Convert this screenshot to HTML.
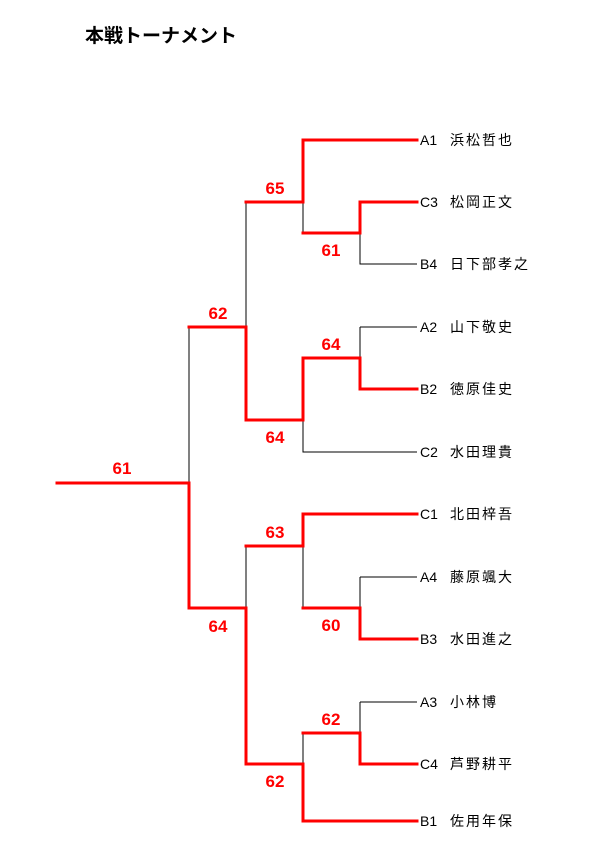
<!DOCTYPE html>
<html><head><meta charset="utf-8"><style>
html,body{margin:0;padding:0;background:#fff;}
svg{display:block;}
.t{font-family:"Liberation Sans","Noto Sans CJK JP",sans-serif;}
</style></head><body>
<svg width="600" height="860" xmlns="http://www.w3.org/2000/svg">
<text x="85" y="42" class="t" font-size="19" font-weight="bold" fill="#000">本戦トーナメント</text>
<g stroke="#000" stroke-width="1" fill="none" shape-rendering="crispEdges">
<path d="M360 233V264H417"/>
<path d="M303 202V233"/>
<path d="M360 327V358M360 327H417"/>
<path d="M303 420V452H417"/>
<path d="M246 202V327"/>
<path d="M360 577V608M360 577H417"/>
<path d="M303 546V608"/>
<path d="M360 702V733M360 702H417"/>
<path d="M303 733V764"/>
<path d="M246 546V608"/>
<path d="M189 327V483"/>
</g>
<g stroke="#ff0000" stroke-width="3" fill="none" stroke-linecap="square">
<path d="M417 202H360V233H303"/>
<path d="M417 140H303V202H246"/>
<path d="M417 389H360V358H303"/>
<path d="M303 358V420H246"/>
<path d="M246 420V327H189"/>
<path d="M417 639H360V608H303"/>
<path d="M417 514H303V546H246"/>
<path d="M417 764H360V733H303"/>
<path d="M417 821H303V764H246"/>
<path d="M246 764V608H189"/>
<path d="M189 608V483H57"/>
</g>
<g class="t" font-size="17" font-weight="bold" fill="#ff0000" text-anchor="middle">
<text x="122" y="474">61</text>
<text x="218" y="319">62</text>
<text x="218" y="632">64</text>
<text x="275" y="194">65</text>
<text x="275" y="443">64</text>
<text x="275" y="538">63</text>
<text x="275" y="787">62</text>
<text x="331" y="256">61</text>
<text x="331" y="350">64</text>
<text x="331" y="631">60</text>
<text x="331" y="725">62</text>
</g>
<g class="t" font-size="14" fill="#000">
<text x="420" y="145">A1</text><text x="450" y="145" letter-spacing="2">浜松哲也</text>
<text x="420" y="207">C3</text><text x="450" y="207" letter-spacing="2">松岡正文</text>
<text x="420" y="269">B4</text><text x="450" y="269" letter-spacing="2">日下部孝之</text>
<text x="420" y="332">A2</text><text x="450" y="332" letter-spacing="2">山下敬史</text>
<text x="420" y="394">B2</text><text x="450" y="394" letter-spacing="2">徳原佳史</text>
<text x="420" y="457">C2</text><text x="450" y="457" letter-spacing="2">水田理貴</text>
<text x="420" y="519">C1</text><text x="450" y="519" letter-spacing="2">北田梓吾</text>
<text x="420" y="582">A4</text><text x="450" y="582" letter-spacing="2">藤原颯大</text>
<text x="420" y="644">B3</text><text x="450" y="644" letter-spacing="2">水田進之</text>
<text x="420" y="707">A3</text><text x="450" y="707" letter-spacing="2">小林博</text>
<text x="420" y="769">C4</text><text x="450" y="769" letter-spacing="2">芦野耕平</text>
<text x="420" y="826">B1</text><text x="450" y="826" letter-spacing="2">佐用年保</text>
</g>
</svg>
</body></html>
